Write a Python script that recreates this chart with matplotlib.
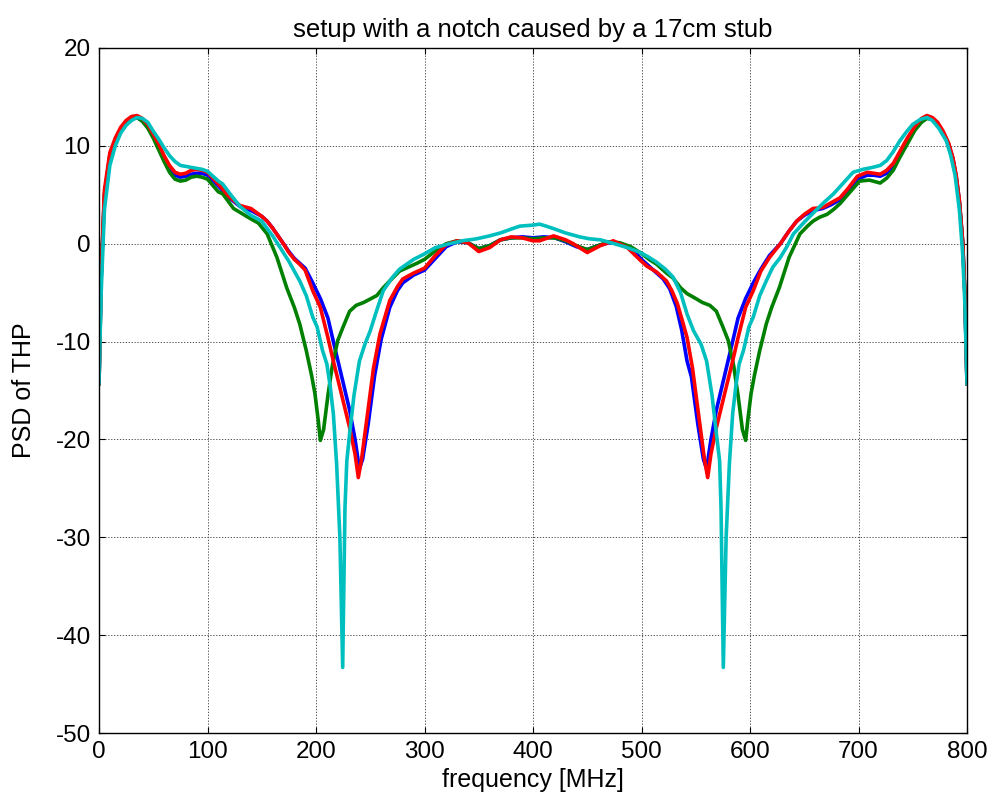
import matplotlib
matplotlib.use("Agg")
import matplotlib.pyplot as plt
import numpy as np

plt.rcParams['font.family'] = ['Liberation Sans', 'DejaVu Sans']
plt.rcParams['axes.unicode_minus'] = False

# blue trace
freq_blue = [0, 2, 5, 10, 15, 20, 25, 30, 35, 40, 45, 50, 55, 60, 65, 70, 75, 80, 85, 90, 95, 100,
             110, 120, 130, 140, 150, 155, 160, 165, 170, 175, 180, 185, 190, 197, 204, 211, 216, 222,
             231, 236, 240, 243, 248, 254, 260, 268, 275, 280, 290, 300, 310, 320, 330, 340, 350, 360,
             370, 380, 390, 400,
             410, 420, 430, 440, 450, 460, 470, 480, 490, 500, 510, 520, 526, 532, 537, 542, 546, 552,
             557, 560, 564, 569, 578, 584, 589, 596, 603, 610, 618, 628, 636, 643, 650, 658, 667, 675,
             683, 690, 699, 708, 714, 720, 726, 732, 738, 745, 752, 758, 763, 768, 773, 778, 783, 787,
             790, 793, 796, 798, 800]
psd_blue = [-14.3, -3.5, 5.0, 9.0, 10.6, 11.7, 12.4, 12.8, 12.9, 12.6, 12.0, 11.0, 9.9, 8.8, 7.7, 7.0,
            6.8, 6.9, 7.1, 7.2, 7.2, 7.0,
            5.9, 4.7, 3.8, 3.4, 2.8, 2.3, 1.6, 0.8, 0.0, -0.8, -1.5, -2.0, -2.5, -4.0, -5.6, -7.6, -10.0,
            -12.8, -17.0, -20.0, -23.0, -22.0, -18.5, -13.5, -9.8, -6.5, -4.8, -4.0, -3.2, -2.7, -1.5,
            -0.3, 0.2, 0.1, -0.5, -0.2, 0.4, 0.6, 0.7, 0.6,
            0.7, 0.6, 0.2, -0.3, -0.6, -0.2, 0.1, 0.0, -0.4, -1.6, -2.6, -3.6, -4.6, -6.4, -8.8, -12.0,
            -13.6, -18.5, -22.0, -23.0, -20.0, -17.0, -12.8, -10.0, -7.6, -5.6, -4.0, -2.6, -1.2, 0.0,
            1.3, 2.3, 2.9, 3.4, 3.6, 4.0, 4.5, 5.3, 6.6, 7.0, 7.0, 6.9, 7.2, 7.9, 9.2, 10.6, 11.9, 12.6,
            12.9, 12.8, 12.2, 11.4, 10.2, 8.7, 6.9, 4.3, 0.2, -5.0, -14.3]

# green trace
freq_green = [0, 2, 5, 10, 15, 20, 25, 30, 35, 40, 45, 50, 55, 60, 65, 70, 75, 80, 85, 90, 95, 100,
              110, 114, 124, 130, 139, 147, 155, 164, 173, 180, 185, 191, 196, 199, 202, 204, 207, 211,
              215, 220, 225, 231, 237, 244, 256, 262, 268, 277, 285, 293, 300, 314, 320, 330, 340, 350,
              360, 370, 380, 390, 400,
              410, 420, 430, 440, 450, 460, 470, 480, 490, 500, 507, 514, 523, 529, 536, 542, 550, 556,
              563, 569, 575, 580, 585, 589, 593, 596, 598, 601, 604, 609, 615, 620, 627, 636, 646, 653,
              658, 664, 671, 677, 683, 690, 701, 710, 720, 726, 732, 738, 745, 752, 758, 763, 768, 773,
              778, 783, 787, 790, 793, 796, 798, 800]
psd_green = [-14.3, -3.5, 5.0, 9.0, 10.6, 11.7, 12.4, 12.8, 12.9, 12.5, 11.8, 10.8, 9.6, 8.4, 7.3, 6.6,
             6.4, 6.5, 6.8, 6.9, 6.8, 6.6,
             5.3, 5.1, 3.6, 3.2, 2.6, 2.1, 1.0, -1.4, -4.5, -6.5, -8.2, -10.9, -13.5, -15.3, -18.0, -20.1,
             -19.0, -15.5, -12.5, -9.9, -8.5, -6.9, -6.3, -6.0, -5.3, -4.5, -3.8, -2.8, -2.4, -2.0, -1.6,
             -0.4, 0.0, 0.3, 0.1, -0.5, -0.2, 0.4, 0.6, 0.6, 0.5,
             0.6, 0.6, 0.3, -0.2, -0.6, -0.2, 0.2, 0.1, -0.3, -1.0, -1.6, -2.1, -3.0, -3.5, -4.5, -5.1,
             -5.6, -6.0, -6.3, -6.9, -8.5, -9.9, -12.5, -15.5, -19.0, -20.1, -18.0, -15.3, -13.5, -10.9,
             -8.2, -6.5, -4.5, -1.4, 1.0, 1.8, 2.3, 2.7, 3.0, 3.5, 4.1, 5.0, 6.4, 6.5, 6.2, 6.7, 7.5, 8.8,
             10.2, 11.6, 12.4, 12.8, 12.7, 12.1, 11.3, 10.1, 8.6, 6.8, 4.2, 0.2, -5.0, -14.3]

# red trace
freq_red = [0, 2, 5, 10, 15, 20, 25, 30, 35, 40, 45, 50, 55, 60, 65, 70, 75, 80, 85, 90, 95, 100,
            110, 120, 130, 140, 150, 155, 160, 165, 170, 175, 180, 185, 190, 197, 204, 211, 216, 222,
            231, 236, 239, 242, 247, 253, 259, 268, 275, 280, 290, 300, 310, 320, 330, 340, 350, 360,
            370, 380, 390, 400,
            406, 419, 430, 437, 450, 462, 474, 487, 499, 505, 514, 520, 523, 528, 533, 538, 542, 547,
            553, 558, 561, 564, 569, 578, 584, 589, 596, 603, 610, 618, 628, 636, 643, 650, 658, 667,
            675, 683, 690, 699, 708, 714, 720, 726, 732, 738, 745, 752, 758, 763, 768, 773, 778, 783,
            787, 790, 793, 796, 798, 800]
psd_red = [-14.3, -3.0, 5.5, 9.3, 10.8, 11.9, 12.6, 13.0, 13.1, 12.8, 12.2, 11.2, 10.2, 9.0, 8.0, 7.3,
           7.1, 7.2, 7.5, 7.6, 7.5, 7.3,
           6.1, 4.8, 3.9, 3.6, 2.8, 2.3, 1.6, 0.8, 0.0, -0.9, -1.6, -2.1, -2.7, -4.8, -6.5, -9.6, -12.0,
           -14.7, -18.8, -21.5, -23.9, -22.0, -17.8, -12.7, -9.2, -5.8, -4.4, -3.6, -3.0, -2.5, -1.2,
           -0.1, 0.3, 0.1, -0.8, -0.4, 0.4, 0.7, 0.6, 0.3,
           0.3, 0.8, 0.4, 0.0, -0.9, -0.2, 0.3, -0.4, -1.7, -2.3, -2.9, -3.5, -3.8, -4.8, -6.1, -8.0,
           -9.6, -12.7, -17.8, -22.0, -23.9, -21.5, -18.8, -14.7, -12.0, -9.6, -6.5, -4.8, -2.8, -1.4,
           0.0, 1.3, 2.3, 3.0, 3.6, 3.7, 4.2, 4.7, 5.6, 6.9, 7.3, 7.2, 7.1, 7.5, 8.2, 9.4, 10.8, 12.0,
           12.8, 13.1, 12.9, 12.4, 11.5, 10.3, 8.8, 7.0, 4.4, 0.3, -5.0, -14.3]

# cyan trace
freq_cyan = [0, 2, 5, 10, 15, 20, 25, 30, 35, 40, 45, 50, 55, 60, 65, 70, 75, 80, 85, 90, 95, 100,
             110, 114, 120, 130, 140, 150, 160, 167, 175, 185, 191, 197, 201, 206, 210, 213, 216, 219,
             222, 224.6, 226.7, 228.4, 231, 235, 240, 245, 250, 256, 262, 270, 277, 290, 299, 310, 323,
             335, 348, 360, 370, 380, 388, 400,
             406, 412, 420, 430, 443, 452, 462, 475, 487, 499, 507, 514, 522, 529, 536, 542, 548, 555,
             560, 565, 569, 572, 573.3, 575.4, 578, 581, 584, 587, 590, 594, 599, 603, 609, 615, 621,
             628, 634, 640, 650, 658, 668, 677, 686, 695, 704, 713, 720, 726, 732, 738, 744, 750, 757,
             763, 768, 774, 781, 785, 789, 793, 796, 798, 800]
psd_cyan = [-14.3, -5.0, 3.5, 8.0, 10.0, 11.3, 12.1, 12.6, 12.9, 12.8, 12.4, 11.5, 10.7, 9.8, 9.0, 8.4,
            8.0, 7.9, 7.8, 7.7, 7.6, 7.4,
            6.4, 6.1, 5.2, 3.8, 2.9, 2.3, 0.8, -0.4, -1.8, -3.8, -5.3, -7.5, -8.5, -10.9, -12.3, -14.5,
            -17.4, -22.5, -30.0, -43.3, -27.0, -22.2, -19.4, -15.5, -12.0, -10.3, -8.9, -6.8, -4.8,
            -3.5, -2.6, -1.6, -1.1, -0.4, 0.0, 0.3, 0.5, 0.8, 1.1, 1.5, 1.8, 1.9,
            2.0, 1.8, 1.5, 1.1, 0.7, 0.5, 0.4, 0.0, -0.4, -0.9, -1.4, -1.9, -2.6, -3.4, -5.0, -7.2,
            -8.9, -10.3, -12.0, -15.5, -19.4, -22.2, -27.0, -43.3, -30.0, -22.5, -17.4, -14.5, -12.3,
            -10.9, -8.5, -7.5, -5.3, -3.8, -2.4, -1.4, -0.3, 1.0, 2.2, 3.1, 4.2, 5.1, 6.2, 7.3, 7.6,
            7.8, 8.0, 8.5, 9.4, 10.5, 11.4, 12.2, 12.7, 12.9, 12.6, 11.8, 10.5, 9.0, 7.0, 3.4, -1.0,
            -6.0, -14.3]

fig = plt.figure(figsize=(9.9, 8.05), dpi=100)
ax = fig.add_axes([99 / 990, 72 / 805, 868 / 990, 685 / 805])

lw = 2.6
ax.plot(freq_blue, psd_blue, color='#0000ff', lw=lw)
ax.plot(freq_green, psd_green, color='#008000', lw=lw)
ax.plot(freq_red, psd_red, color='#ff0000', lw=lw)
ax.plot(freq_cyan, psd_cyan, color='#00bfbf', lw=lw)

ax.set_xlim(0, 800)
ax.set_ylim(-50, 20)
ax.set_xticks(np.arange(0, 801, 100))
ax.set_yticks(np.arange(-50, 21, 10))
ax.grid(True, color='0.2', linestyle=(0, (1.5, 2)), linewidth=0.6)
ax.tick_params(direction='in', length=4, width=0.8, top=True, right=True, labelsize=17.5, pad=6)
for s in ax.spines.values():
    s.set_linewidth(1.0)

ax.set_xlabel('frequency [MHz]', fontsize=18, labelpad=3)
ax.set_ylabel('PSD of THP', fontsize=18, labelpad=14)
ax.set_title('setup with a notch caused by a 17cm stub', fontsize=18.5, pad=8)

fig.savefig('out.png', dpi=100)
